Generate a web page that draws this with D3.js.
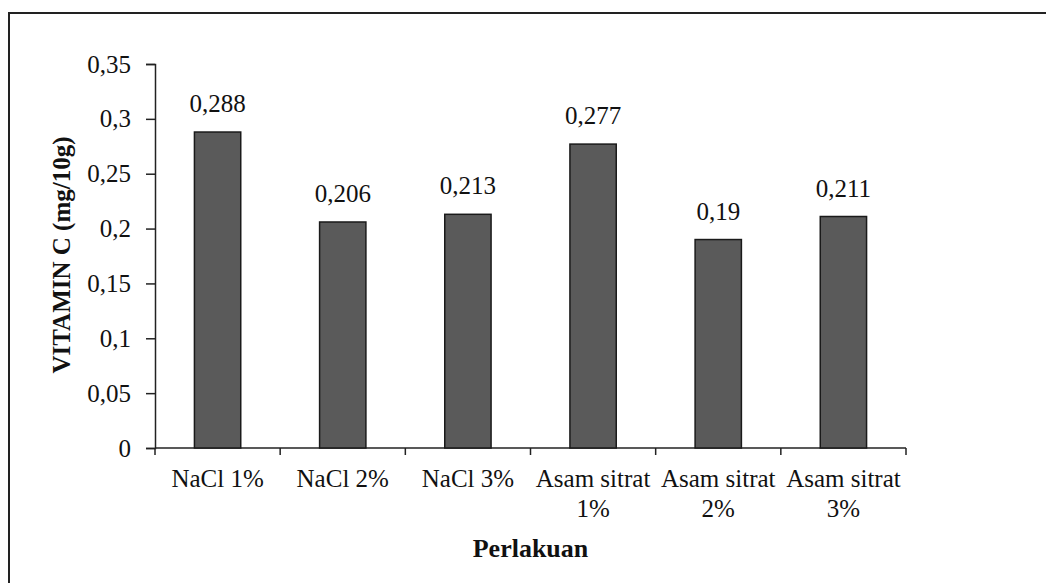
<!DOCTYPE html>
<html>
<head>
<meta charset="utf-8">
<script src="https://cdn.jsdelivr.net/npm/d3@7"></script>
<style>
  body { margin: 0; background: #fff; }
  #chart { width: 1046px; height: 583px; }
  text { font-family: "Liberation Serif", "Times New Roman", serif; fill: #111; }
</style>
</head>
<body>
<div id="chart"></div>
<script>
var categories = [["NaCl 1%"], ["NaCl 2%"], ["NaCl 3%"], ["Asam sitrat", "1%"], ["Asam sitrat", "2%"], ["Asam sitrat", "3%"]];
var values = [0.288, 0.206, 0.213, 0.277, 0.19, 0.211];
var valueLabels = ["0,288", "0,206", "0,213", "0,277", "0,19", "0,211"];
var yTicks = [0, 0.05, 0.1, 0.15, 0.2, 0.25, 0.3, 0.35];
var yTickLabels = ["0", "0,05", "0,1", "0,15", "0,2", "0,25", "0,3", "0,35"];

var canvasWidth = 1046, canvasHeight = 583;
var plotLeft = 155, plotRight = 906, plotTop = 64, plotBottom = 448;

var svg = d3.select("#chart").append("svg")
    .attr("width", canvasWidth)
    .attr("height", canvasHeight)

// outer frame (runs off the right and bottom edge in the original)
svg.append("rect")
    .attr("x", 9).attr("y", 13)
    .attr("width", 1100).attr("height", 650)
    .attr("fill", "none")
    .attr("stroke", "#222")
    .attr("stroke-width", 2)

var xScale = d3.scaleBand().domain(d3.range(values.length)).range([plotLeft, plotRight]).padding(0);
var yScale = d3.scaleLinear().domain([0, 0.35]).range([plotBottom, plotTop]);

// y axis
var yAxis = svg.append("g")
    .attr("transform", "translate(" + plotLeft + ",0)")
    .call(d3.axisLeft(yScale).tickValues(yTicks).tickSize(9).tickPadding(15)
        .tickFormat(function(d, i) { return yTickLabels[i]; }))
yAxis.selectAll("text").attr("font-size", "25px").attr("font-family", "Liberation Serif, serif").attr("fill", "#111")
yAxis.selectAll("line, path").attr("stroke", "#222").attr("stroke-width", 1.5)

// x axis: ticks on band edges
var edges = d3.range(values.length + 1).map(function(i) { return plotLeft + i * xScale.step(); });
var xg = svg.append("g");
xg.append("line")
    .attr("x1", plotLeft).attr("x2", plotRight)
    .attr("y1", plotBottom).attr("y2", plotBottom)
    .attr("stroke", "#222").attr("stroke-width", 1.5)
xg.selectAll(".xt").data(edges).enter().append("line")
    .attr("x1", function(d) { return d; }).attr("x2", function(d) { return d; })
    .attr("y1", plotBottom).attr("y2", plotBottom + 7)
    .attr("stroke", "#222").attr("stroke-width", 1.5)

var barW = xScale.bandwidth() * 0.37;

// bars
svg.selectAll(".bar").data(values).enter().append("rect")
    .attr("x", function(d, i) { return xScale(i) + xScale.bandwidth() / 2 - barW / 2; })
    .attr("y", function(d) { return yScale(d); })
    .attr("width", barW)
    .attr("height", function(d) { return yScale(0) - yScale(d); })
    .attr("fill", "#5a5a5a")
    .attr("stroke", "#1a1a1a")
    .attr("stroke-width", 1.5)

// value labels
svg.selectAll(".val").data(values).enter().append("text")
    .attr("x", function(d, i) { return xScale(i) + xScale.bandwidth() / 2; })
    .attr("y", function(d) { return yScale(d) - 20; })
    .attr("text-anchor", "middle")
    .attr("font-size", "25px")
    .text(function(d, i) { return valueLabels[i]; })

// category labels
var cat = svg.selectAll(".cat").data(categories).enter().append("text")
    .attr("x", function(d, i) { return xScale(i) + xScale.bandwidth() / 2; })
    .attr("y", 487)
    .attr("text-anchor", "middle")
    .attr("font-size", "25px")
cat.selectAll("tspan").data(function(d) { return d; }).enter().append("tspan")
    .attr("x", function() { return d3.select(this.parentNode).attr("x"); })
    .attr("dy", function(d, i) { return i === 0 ? 0 : 30; })
    .text(function(d) { return d; })

// axis titles
svg.append("text")
    .attr("x", (plotLeft + plotRight) / 2)
    .attr("y", 557)
    .attr("text-anchor", "middle")
    .attr("font-size", "26px")
    .attr("font-weight", "bold")
    .text("Perlakuan")

svg.append("text")
    .attr("transform", "translate(70, 255) rotate(-90)")
    .attr("text-anchor", "middle")
    .attr("font-size", "25px")
    .attr("font-weight", "bold")
    .text("VITAMIN C (mg/10g)")
</script>
</body>
</html>
